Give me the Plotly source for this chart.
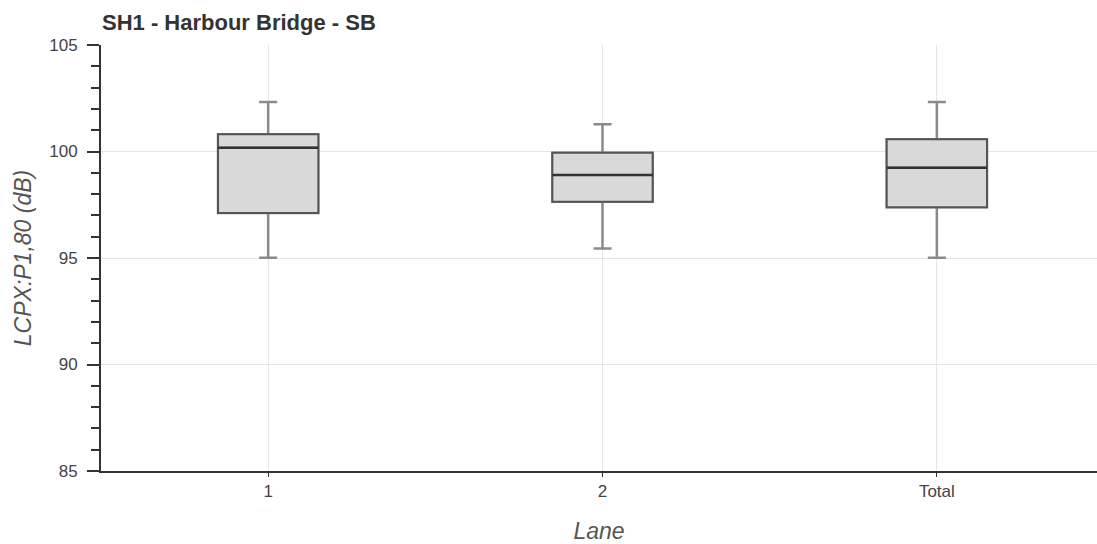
import plotly.graph_objects as go

# Summary statistics of LCPX:P1,80 per lane
lanes = ["1", "2", "Total"]
lower_fence = [95.01, 95.45, 95.01]
q1 = [97.11, 97.64, 97.38]
median = [100.18, 98.90, 99.24]
q3 = [100.81, 99.94, 100.57]
upper_fence = [102.32, 101.28, 102.32]

FONT = "Liberation Sans, Arial, sans-serif"
BOX_W = 0.3

fig = go.Figure()

# Whiskers (lighter grey) spanning the full fence range
fig.add_trace(go.Box(
    x=lanes, q1=q1, median=median, q3=q3,
    lowerfence=lower_fence, upperfence=upper_fence,
    width=BOX_W, whiskerwidth=0.18,
    line=dict(color="#8a8a8a", width=2.5),
    fillcolor="rgba(0,0,0,0)",
    showlegend=False, hoverinfo="skip",
))

# Box body with darker outline drawn over the whiskers
fig.add_trace(go.Box(
    x=lanes, q1=q1, median=median, q3=q3,
    lowerfence=q1, upperfence=q3,
    width=BOX_W, whiskerwidth=0,
    line=dict(color="#555555", width=2),
    fillcolor="#d9d9d9",
    showlegend=False,
))

# Darker median line
fig.add_trace(go.Box(
    x=lanes, q1=median, median=median, q3=median,
    lowerfence=median, upperfence=median,
    width=BOX_W, whiskerwidth=0,
    line=dict(color="#333333", width=2.5),
    fillcolor="rgba(0,0,0,0)",
    showlegend=False, hoverinfo="skip",
))

fig.update_layout(
    width=1097, height=544,
    margin=dict(l=101, r=0, t=45, b=72.5, autoexpand=False),
    paper_bgcolor="white", plot_bgcolor="white",
    boxmode="overlay",
    font=dict(family=FONT, size=17, color="#444444"),
    title=dict(
        text="<b>SH1 - Harbour Bridge - SB</b>",
        font=dict(family=FONT, size=22, color="#333333"),
        xref="container", yref="container",
        x=102 / 1097, xanchor="left",
        y=1 - 22 / 544, yanchor="middle",
    ),
    xaxis=dict(
        type="category",
        range=[-0.5, 2.479],
        showline=True, linecolor="#333333", linewidth=2,
        ticks="outside", ticklen=4, tickcolor="#333333", tickwidth=1,
        showgrid=True, gridcolor="#e5e5e5", gridwidth=1,
        zeroline=False,
        tickfont=dict(family=FONT, size=17, color="#444444"),
        title=dict(text="<i>Lane</i>", font=dict(family=FONT, size=23, color="#555555"), standoff=25),
        automargin=False,
    ),
    yaxis=dict(
        range=[85, 105], dtick=5, tick0=85,
        showline=True, linecolor="#333333", linewidth=2,
        ticks="outside", ticklen=12, tickcolor="#333333", tickwidth=2,
        ticklabelstandoff=6,
        minor=dict(dtick=1, ticks="outside", ticklen=8, tickcolor="#333333", tickwidth=2, showgrid=False),
        showgrid=True, gridcolor="#e5e5e5", gridwidth=1,
        zeroline=False,
        tickfont=dict(family=FONT, size=17, color="#444444"),
        title=dict(text="<i>LCPX:P1,80 (dB)</i>", font=dict(family=FONT, size=23, color="#555555"), standoff=11),
        automargin=False,
    ),
)

fig.write_html("out.html")
